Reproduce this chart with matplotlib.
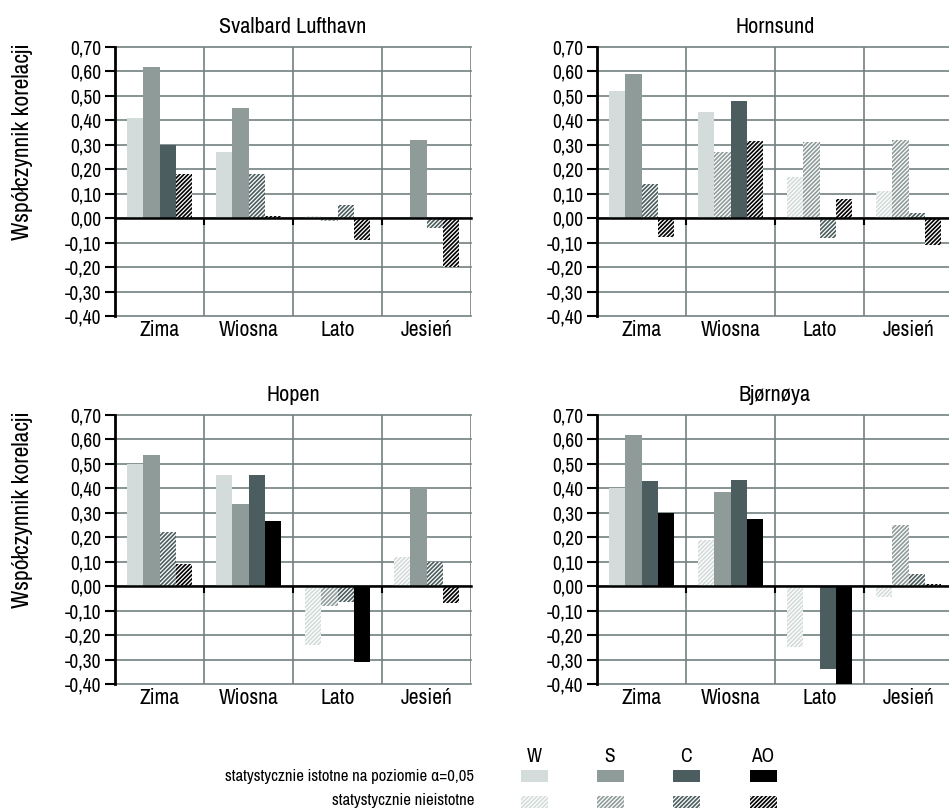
import numpy as np
import matplotlib
matplotlib.use('Agg')
import matplotlib.pyplot as plt
from matplotlib.patches import Rectangle
from matplotlib.ticker import FuncFormatter

plt.rcParams['font.family'] = ['Archivo Narrow', 'Roboto Condensed', 'Liberation Sans', 'DejaVu Sans']
plt.rcParams['hatch.linewidth'] = 1.2

# Dane: współczynniki korelacji dla sezonów i indeksów cyrkulacji
pory_roku = ['Zima', 'Wiosna', 'Lato', 'Jesień']
indeksy = ['W', 'S', 'C', 'AO']
stacje = ['Svalbard Lufthavn', 'Hornsund', 'Hopen', 'Bjørnøya']

# wartości [stacja][pora roku][indeks]
svalbard_vals = [[0.41, 0.62, 0.30, 0.18], [0.27, 0.45, 0.18, 0.01],
                 [0.01, -0.01, 0.055, -0.09], [0.00, 0.32, -0.04, -0.20]]
hornsund_vals = [[0.52, 0.59, 0.14, -0.075], [0.435, 0.27, 0.48, 0.315],
                 [0.17, 0.31, -0.08, 0.08], [0.11, 0.32, 0.02, -0.11]]
hopen_vals = [[0.50, 0.535, 0.22, 0.09], [0.455, 0.335, 0.455, 0.265],
              [-0.24, -0.08, -0.065, -0.31], [0.12, 0.40, 0.10, -0.07]]
bjornoya_vals = [[0.40, 0.62, 0.43, 0.30], [0.19, 0.385, 0.435, 0.275],
                 [-0.25, 0.0, -0.34, -0.41], [-0.045, 0.25, 0.05, 0.01]]

# istotność statystyczna (1 = istotne, 0 = nieistotne)
svalbard_sig = [[1, 1, 1, 0], [1, 1, 0, 0], [0, 0, 0, 0], [0, 1, 0, 0]]
hornsund_sig = [[1, 1, 0, 0], [1, 0, 1, 0], [0, 0, 0, 0], [0, 0, 0, 0]]
hopen_sig = [[1, 1, 0, 0], [1, 1, 1, 1], [0, 0, 0, 1], [0, 1, 0, 0]]
bjornoya_sig = [[1, 1, 1, 1], [0, 1, 1, 1], [0, 1, 1, 1], [0, 0, 0, 0]]

wartosci = [svalbard_vals, hornsund_vals, hopen_vals, bjornoya_vals]
istotnosc = [svalbard_sig, hornsund_sig, hopen_sig, bjornoya_sig]

kolory = ['#d3dcda', '#8e9b99', '#4b5d5e', '#000000']
kolor_siatki = '#738181'

W, H = 949, 810
fig = plt.figure(figsize=(W / 100, H / 100), dpi=100)

# pozycje paneli w pikselach: (lewo, góra)
pozycje = [(115, 47), (597, 47), (115, 415), (597, 415)]
szer, wys = 356, 269

szer_slupka = 0.183
x = np.arange(len(pory_roku))


def fmt(v, p):
    if abs(v) < 1e-9:
        v = 0.0
    return f'{v:.2f}'.replace('.', ',')


for k, (lewo, gora) in enumerate(pozycje):
    ax = fig.add_axes([lewo / W, 1 - (gora + wys) / H, szer / W, wys / H])
    vals = np.array(wartosci[k])
    sig = np.array(istotnosc[k])
    for j in range(len(indeksy)):
        for i in range(len(pory_roku)):
            xi = x[i] + (j - 1.5) * szer_slupka
            if sig[i, j]:
                ax.bar(xi, vals[i, j], szer_slupka, color=kolory[j], linewidth=0, zorder=3)
            else:
                ax.bar(xi, vals[i, j], szer_slupka, facecolor='white', edgecolor=kolory[j],
                       hatch='////////', linewidth=0, zorder=3)

    ax.set_xlim(-0.5, 3.5)
    ax.set_ylim(-0.40, 0.70)
    ax.set_yticks(np.round(np.arange(-0.4, 0.71, 0.1), 2))
    ax.yaxis.set_major_formatter(FuncFormatter(fmt))
    ax.tick_params(axis='y', labelsize=14, length=7, width=1.5, color='black', pad=3)

    # siatka
    for yv in np.arange(-0.4, 0.71, 0.1):
        ax.axhline(yv, color=kolor_siatki, lw=1.2, zorder=1, clip_on=False)
    for xv in [0.5, 1.5, 2.5, 3.5]:
        ax.axvline(xv, color=kolor_siatki, lw=1.2, zorder=1)

    for s in ['top', 'right']:
        ax.spines[s].set_visible(False)
    ax.spines['left'].set_linewidth(2)
    ax.spines['left'].set_zorder(5)
    ax.spines['bottom'].set_position(('data', 0))
    ax.spines['bottom'].set_linewidth(1.8)
    ax.spines['bottom'].set_zorder(5)
    ax.set_xticks([0.5, 1.5, 2.5])
    ax.tick_params(axis='x', length=5, width=1.5, labelbottom=False)

    sec = ax.secondary_xaxis('bottom')
    sec.set_xticks(x, pory_roku)
    sec.tick_params(length=0, labelsize=15.5, pad=3)
    sec.spines['bottom'].set_visible(False)

    ax.set_title(stacje[k], fontsize=16, pad=10)
    if k % 2 == 0:
        ax.set_ylabel('Współczynnik korelacji', fontsize=17)
        ax.yaxis.set_label_coords(-0.23, 0.647)

# legenda
fig.text(474 / W, 1 - 776 / H, 'statystycznie istotne na poziomie α=0,05',
         ha='right', va='center', fontsize=12)
fig.text(474 / W, 1 - 801 / H, 'statystycznie nieistotne',
         ha='right', va='center', fontsize=12)
leg_x = [534, 610, 686, 763]
for j, nazwa in enumerate(indeksy):
    fig.text(leg_x[j] / W, 1 - 757 / H, nazwa, ha='center', va='center', fontsize=14)
    fig.add_artist(Rectangle(((leg_x[j] - 13) / W, 1 - 782 / H), 27 / W, 12 / H,
                             transform=fig.transFigure, color=kolory[j], lw=0))
    fig.add_artist(Rectangle(((leg_x[j] - 13) / W, 1 - 808 / H), 27 / W, 12 / H,
                             transform=fig.transFigure, facecolor='white',
                             edgecolor=kolory[j], hatch='////////', lw=0))

fig.savefig('out.png', dpi=100)
